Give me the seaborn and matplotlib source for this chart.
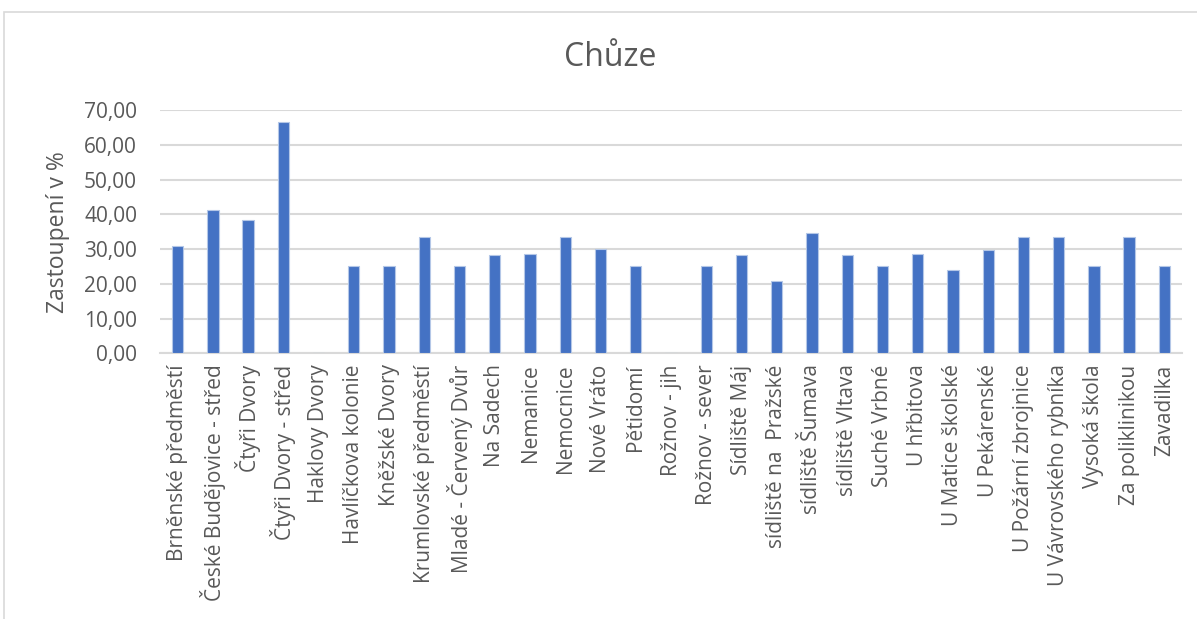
import matplotlib
matplotlib.use("Agg")
import matplotlib.pyplot as plt
import seaborn as sns
import pandas as pd
from matplotlib.ticker import FuncFormatter, MultipleLocator
from matplotlib.patches import Rectangle

categories = [
    "Brněnské předměstí", "České Budějovice - střed", "Čtyři Dvory", "Čtyři Dvory - střed",
    "Haklovy Dvory", "Havlíčkova kolonie", "Kněžské Dvory", "Krumlovské předměstí",
    "Mladé - Červený Dvůr", "Na Sadech", "Nemanice", "Nemocnice", "Nové Vráto", "Pětidomí",
    "Rožnov - jih", "Rožnov - sever", "Sídliště Máj", "sídliště na  Pražské", "sídliště Šumava",
    "sídliště Vltava", "Suché Vrbné", "U hřbitova", "U Matice školské", "U Pekárenské",
    "U Požární zbrojnice", "U Vávrovského rybníka", "Vysoká škola", "Za poliklinikou", "Zavadilka",
]
values = [
    30.77, 41.18, 38.46, 66.67, 0.0, 25.00, 25.00, 33.33,
    25.00, 28.21, 28.57, 33.33, 30.00, 25.00,
    0.0, 25.00, 28.36, 20.93, 34.48,
    28.21, 25.00, 28.57, 24.00, 29.63,
    33.33, 33.33, 25.00, 33.33, 25.00,
]
title = "Chůze"
ylabel = "Zastoupení v %"

df = pd.DataFrame({"cat": categories, "val": values})

sns.set_theme(style="white")
plt.rcParams["font.family"] = ["Open Sans", "DejaVu Sans"]
txt = "#595959"

fig = plt.figure(figsize=(11.97, 6.19), dpi=100)
W, H = 1197, 619
ax = fig.add_axes([160 / W, 1 - 353.3 / H, (1182 - 160) / W, (353.3 - 110) / H])

sns.barplot(data=df, x="cat", y="val", color="#4472C4", width=0.32, ax=ax,
            saturation=1, edgecolor="#b4c7e7", linewidth=0.8, zorder=3)

ax.set_ylim(0, 70)
ax.set_xlim(-0.5, len(categories) - 0.5)
ax.yaxis.set_major_locator(MultipleLocator(10))
ax.yaxis.set_major_formatter(FuncFormatter(lambda v, p: f"{v:.2f}".replace(".", ",")))
ax.grid(axis="y", color="#d9d9d9", linewidth=1.5, zorder=0)
ax.set_axisbelow(True)
for s in ["top", "right", "left"]:
    ax.spines[s].set_visible(False)
ax.spines["bottom"].set_color("#d9d9d9")
ax.spines["bottom"].set_linewidth(1.5)

ax.tick_params(axis="y", length=0, pad=16.5, labelsize=15, labelcolor=txt)
ax.tick_params(axis="x", length=0, pad=8, labelsize=15, labelcolor=txt)
ax.set_xticks(range(len(categories)))
ax.set_xticklabels(categories, rotation=90, ha="center", va="top")
ax.set_xlabel("")
ax.set_ylabel(ylabel, fontsize=16.5, color=txt, labelpad=10)

fig.text(610 / W, 1 - 57 / H, title, ha="center", va="center",
         fontsize=23, color=txt)

fig.patches.append(Rectangle((4 / W, -0.1), 1.2, 1 - 11.7 / H + 0.1, transform=fig.transFigure,
                             fill=False, edgecolor="#d9d9d9", linewidth=1.2))

fig.savefig("out.png", dpi=100)
